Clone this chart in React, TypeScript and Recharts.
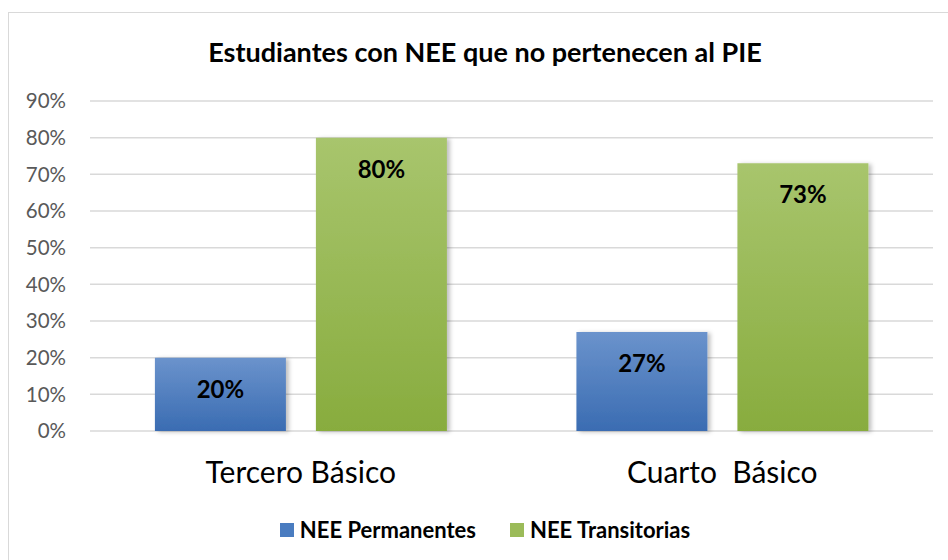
import React from "react";
import { BarChart, Bar, XAxis, YAxis, CartesianGrid, LabelList } from "recharts";

const categories = ["Tercero Básico", "Cuarto  Básico"];
const permanentes = [0.2, 0.27];
const transitorias = [0.8, 0.73];
const yTicks = [0, 0.1, 0.2, 0.3, 0.4, 0.5, 0.6, 0.7, 0.8, 0.9];
const seriesNames = ["NEE Permanentes", "NEE Transitorias"];
const seriesColors = ["#4a7cc0", "#9bbb59"];

const data = categories.map((c, i) => ({
  name: c,
  perm: permanentes[i],
  trans: transitorias[i],
}));

const FONT = "Lato, 'Open Sans', sans-serif";
const pct = (v: number) => `${Math.round(v * 100)}%`;

export default function App() {
  return (
    <div style={{ position: "absolute", left: 0, top: 0, width: 948, height: 560, background: "#fff", overflow: "hidden" }}>
      <div
        style={{
          position: "absolute",
          left: 8,
          top: 12,
          width: 960,
          height: 600,
          border: "1.5px solid #d9d9d9",
          boxSizing: "border-box",
        }}
      />
      <div
        style={{
          position: "absolute",
          left: 0,
          top: 35,
          width: 970,
          textAlign: "center",
          fontFamily: FONT,
          fontWeight: 700,
          fontSize: 27,
          color: "#000",
        }}
      >
        Estudiantes con NEE que no pertenecen al PIE
      </div>
      <div style={{ position: "absolute", left: 0, top: 0 }}>
        <BarChart
          width={948}
          height={560}
          data={data}
          margin={{ top: 101, right: 15, bottom: 99, left: 0 }}
          barCategoryGap="15.4%"
          barGap={30}
        >
          <defs>
            <linearGradient id="gBlue" x1="0" y1="0" x2="0" y2="1">
              <stop offset="0%" stopColor="#6b93cc" />
              <stop offset="100%" stopColor="#3a6cb2" />
            </linearGradient>
            <linearGradient id="gGreen" x1="0" y1="0" x2="0" y2="1">
              <stop offset="0%" stopColor="#a8c56d" />
              <stop offset="100%" stopColor="#88ac3e" />
            </linearGradient>
            <filter id="shadow" x="-10%" y="-10%" width="130%" height="120%">
              <feDropShadow dx="3" dy="1" stdDeviation="2" floodColor="#000" floodOpacity="0.25" />
            </filter>
          </defs>
          <CartesianGrid vertical={false} stroke="#d9d9d9" strokeWidth={1.5} />
          <XAxis
            dataKey="name"
            axisLine={false}
            tickLine={false}
            tickFormatter={(v: string) => v.replace(/  /g, "\u00a0 ")}
            tick={{ fontFamily: FONT, fontSize: 30, fill: "#000" }}
            tickMargin={25}
          />
          <YAxis
            width={90}
            domain={[0, 0.9]}
            ticks={yTicks}
            interval={0}
            tickFormatter={pct}
            axisLine={false}
            tickLine={false}
            tickSize={0}
            tickMargin={24}
            tick={{ fontFamily: FONT, fontSize: 20.5, fill: "#595959" }}
          />
          <Bar dataKey="perm" name={seriesNames[0]} fill="url(#gBlue)" filter="url(#shadow)" isAnimationActive={false}>
            <LabelList
              dataKey="perm"
              position="insideTop"
              offset={23}
              formatter={(v: any) => pct(Number(v))}
              style={{ fontFamily: FONT, fontSize: 24, fontWeight: 700, fill: "#000" }}
            />
          </Bar>
          <Bar dataKey="trans" name={seriesNames[1]} fill="url(#gGreen)" filter="url(#shadow)" isAnimationActive={false}>
            <LabelList
              dataKey="trans"
              position="insideTop"
              offset={23}
              formatter={(v: any) => pct(Number(v))}
              style={{ fontFamily: FONT, fontSize: 24, fontWeight: 700, fill: "#000" }}
            />
          </Bar>
        </BarChart>
      </div>
      <div
        style={{
          position: "absolute",
          left: 0,
          top: 516,
          width: 970,
          display: "flex",
          justifyContent: "center",
          gap: 34,
          fontFamily: FONT,
          fontWeight: 700,
          fontSize: 22,
          color: "#000",
          lineHeight: "28px",
        }}
      >
        {seriesNames.map((n, i) => (
          <div key={n} style={{ display: "flex", alignItems: "center" }}>
            <span
              style={{
                display: "inline-block",
                width: 14,
                height: 14,
                marginRight: 6,
                background: seriesColors[i],
              }}
            />
            {n}
          </div>
        ))}
      </div>
    </div>
  );
}
